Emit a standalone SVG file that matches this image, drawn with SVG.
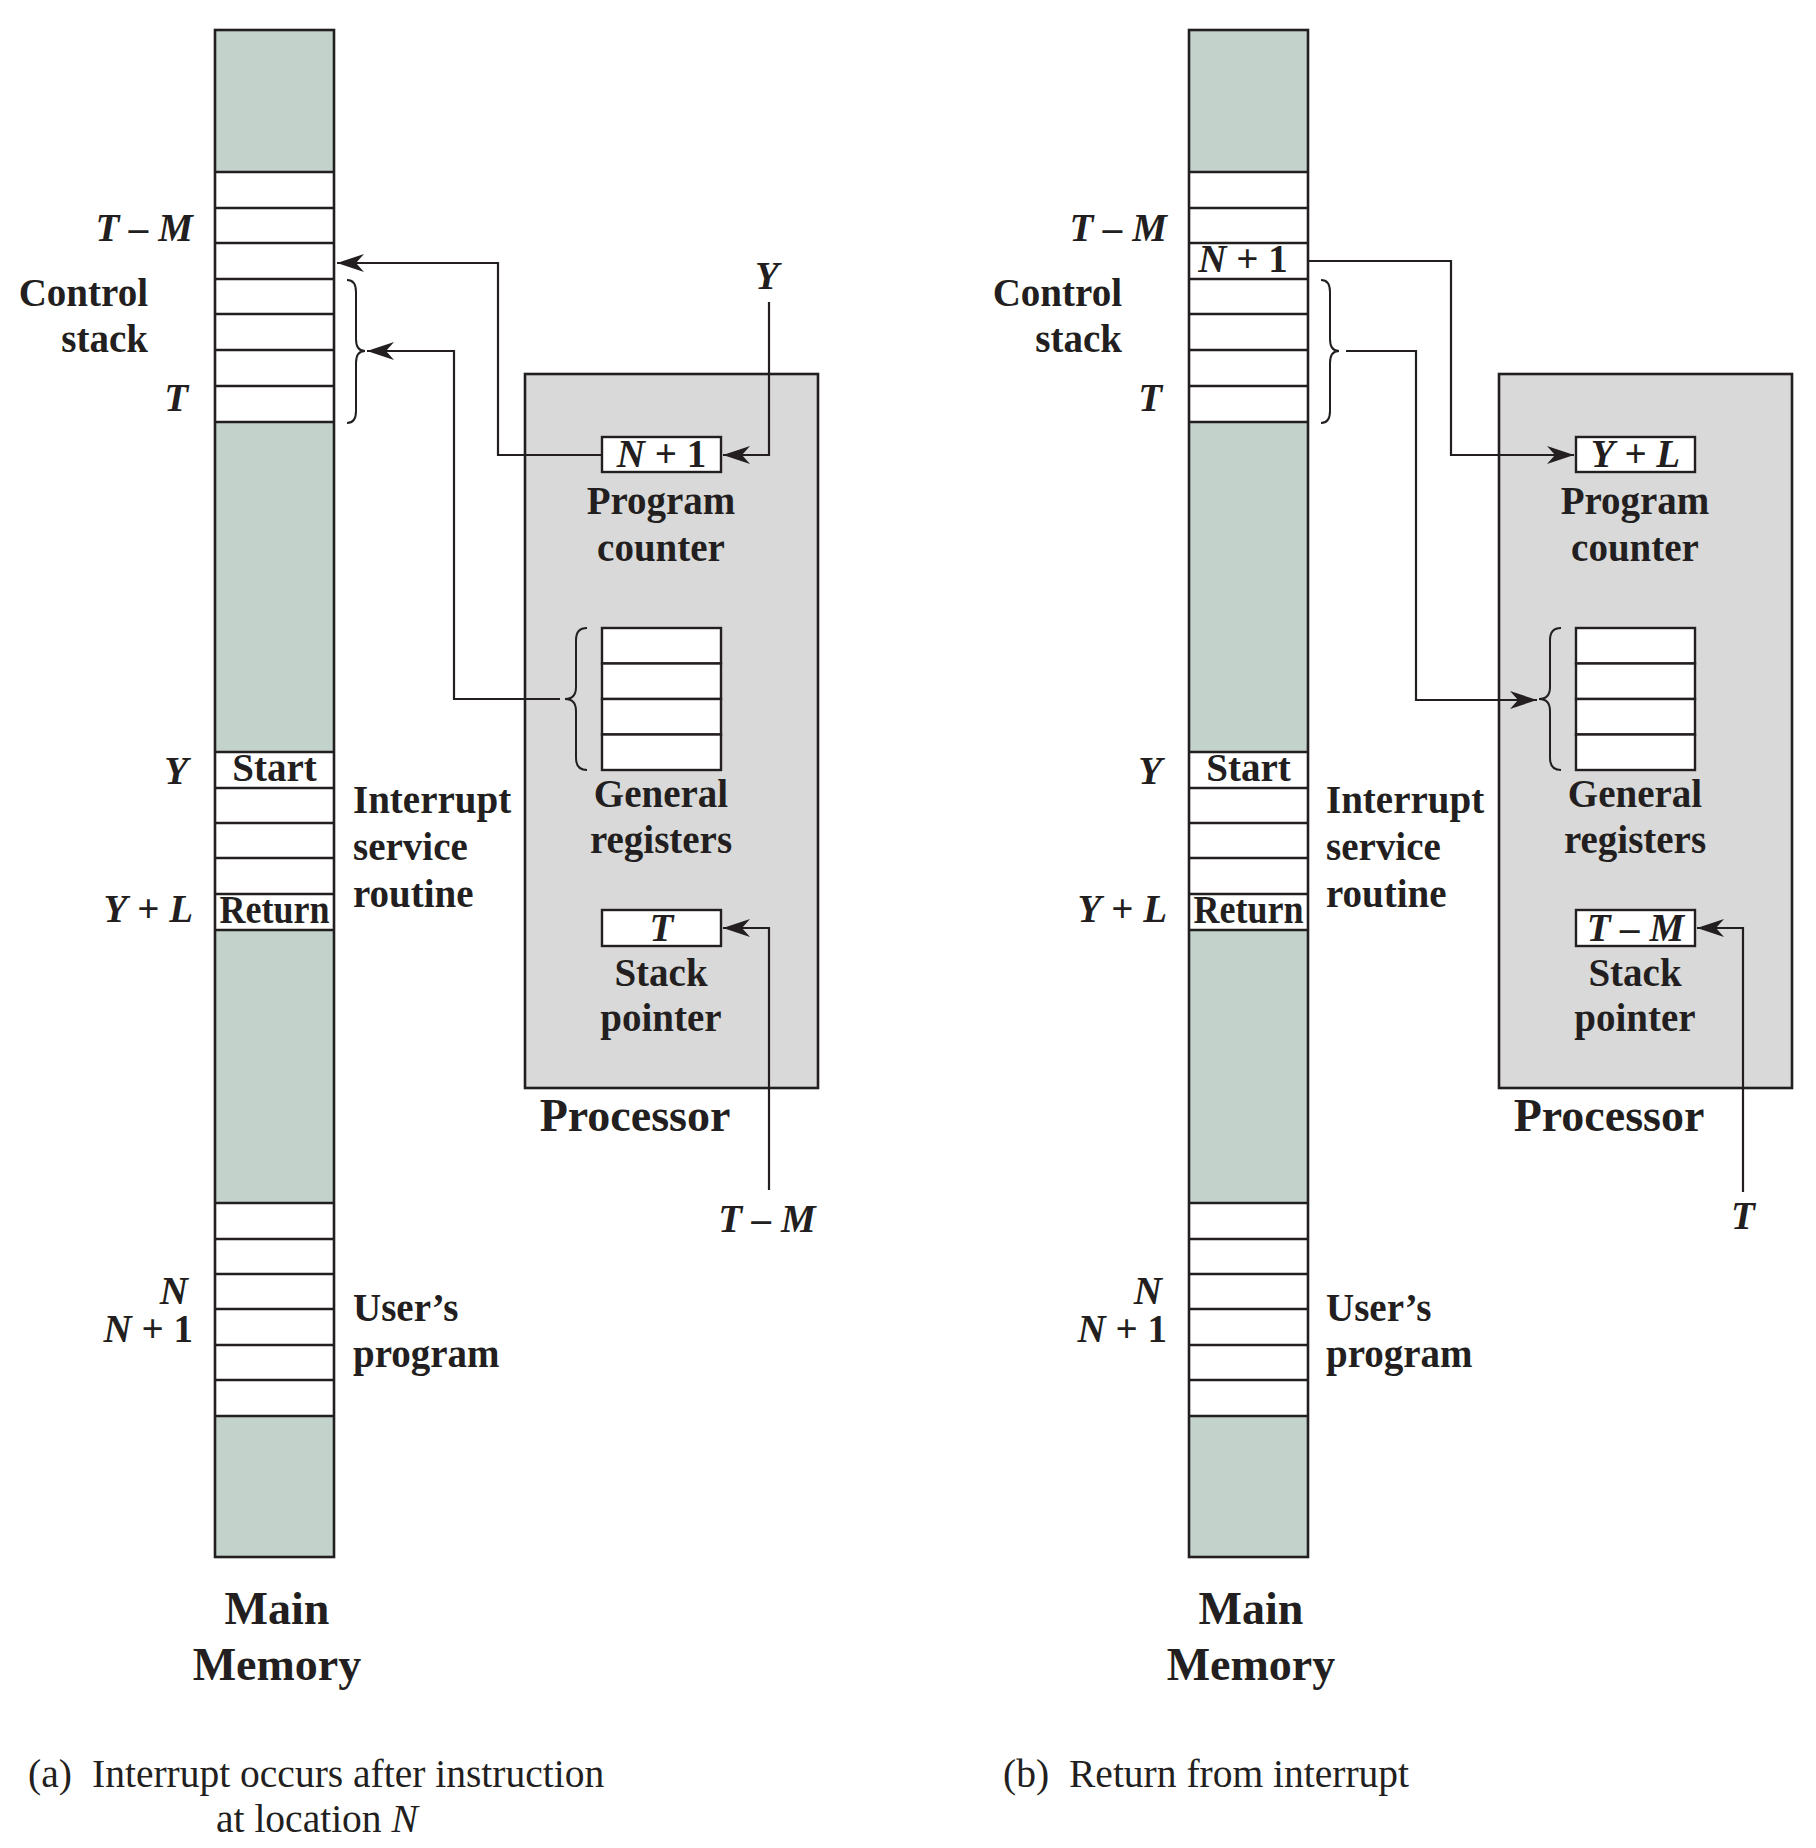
<svg xmlns="http://www.w3.org/2000/svg" width="1816" height="1848" viewBox="0 0 1816 1848">
<defs>
<style>
.mem{fill:#c3d3cc}
.cell{fill:#ffffff}
.ol{fill:none;stroke:#231f20;stroke-width:2.6}
.div{stroke:#231f20;stroke-width:2.4}
.proc{fill:#d9d9d9;stroke:#231f20;stroke-width:2.6}
.reg{fill:#ffffff;stroke:#231f20;stroke-width:2.4}
.con{fill:none;stroke:#231f20;stroke-width:2.2}
.brace{fill:none;stroke:#231f20;stroke-width:2}
.t{font-family:"Liberation Serif","Times New Roman",serif;font-weight:bold;font-size:39px;fill:#231f20}
.i{font-style:italic}
.big{font-size:46px}
.mid{text-anchor:middle}
.end{text-anchor:end}
.cap{font-family:"Liberation Serif","Times New Roman",serif;font-size:39.5px;fill:#231f20}
</style>
<marker id="ah" markerUnits="userSpaceOnUse" markerWidth="30" markerHeight="20" viewBox="-28 -10 30 20" refX="0" refY="0" orient="auto">
<path d="M0,0 L-27,-9 L-19,0 L-27,9 Z" fill="#231f20"/>
</marker>
</defs>

<!-- ===================== PANEL A ===================== -->
<g id="memory-a">
<rect class="mem" x="215" y="30" width="119" height="142"/>
<rect class="cell" x="215" y="172" width="119" height="250"/>
<rect class="mem" x="215" y="422" width="119" height="330"/>
<rect class="cell" x="215" y="752" width="119" height="178"/>
<rect class="mem" x="215" y="930" width="119" height="273"/>
<rect class="cell" x="215" y="1203" width="119" height="213"/>
<rect class="mem" x="215" y="1416" width="119" height="141"/>
<g class="div">
<line x1="215" y1="172" x2="334" y2="172"/><line x1="215" y1="208" x2="334" y2="208"/><line x1="215" y1="243" x2="334" y2="243"/><line x1="215" y1="279" x2="334" y2="279"/><line x1="215" y1="314" x2="334" y2="314"/><line x1="215" y1="350" x2="334" y2="350"/><line x1="215" y1="386" x2="334" y2="386"/><line x1="215" y1="422" x2="334" y2="422"/>
<line x1="215" y1="752" x2="334" y2="752"/><line x1="215" y1="788" x2="334" y2="788"/><line x1="215" y1="823" x2="334" y2="823"/><line x1="215" y1="858" x2="334" y2="858"/><line x1="215" y1="894" x2="334" y2="894"/><line x1="215" y1="930" x2="334" y2="930"/>
<line x1="215" y1="1203" x2="334" y2="1203"/><line x1="215" y1="1239" x2="334" y2="1239"/><line x1="215" y1="1274" x2="334" y2="1274"/><line x1="215" y1="1309" x2="334" y2="1309"/><line x1="215" y1="1345" x2="334" y2="1345"/><line x1="215" y1="1380" x2="334" y2="1380"/><line x1="215" y1="1416" x2="334" y2="1416"/>
</g>
<rect class="ol" x="215" y="30" width="119" height="1527"/>
<text class="t mid" x="274.5" y="781">Start</text>
<text class="t mid" x="274.5" y="923" textLength="110" lengthAdjust="spacingAndGlyphs">Return</text>
<path class="brace" d="M347,280 Q356,280 356,292 V339 Q356,351 365,351 Q356,351 356,363 V411 Q356,423 347,423"/>
<text class="t i end" x="193" y="241">T – M</text>
<text class="t end" x="148" y="306">Control</text>
<text class="t end" x="148" y="352">stack</text>
<text class="t i end" x="188" y="411">T</text>
<text class="t i end" x="188" y="784">Y</text>
<text class="t end" x="193" y="922"><tspan class="i">Y</tspan> + <tspan class="i">L</tspan></text>
<text class="t end"><tspan class="i" x="188" y="1304">N</tspan><tspan x="193" y="1342"><tspan class="i">N</tspan> + 1</tspan></text>
<text class="t" x="353" y="813">Interrupt</text>
<text class="t" x="353" y="860">service</text>
<text class="t" x="353" y="907">routine</text>
<text class="t" x="353" y="1321">User’s</text>
<text class="t" x="353" y="1367">program</text>
<text class="t big mid" x="277" y="1624">Main</text>
<text class="t big mid" x="277" y="1680">Memory</text>
</g>

<g id="processor-a">
<rect class="proc" x="525" y="374" width="293" height="714"/>
<text class="t big mid" x="635" y="1131">Processor</text>
</g>
<g id="pc-a">
<rect class="reg" x="602" y="437" width="119" height="35"/>
<text class="t mid" x="661.5" y="467"><tspan class="i">N</tspan> + 1</text>
<text class="t mid" x="661" y="514">Program</text>
<text class="t mid" x="661" y="561">counter</text>
</g>
<g id="gr-a">
<rect class="reg" x="602" y="628" width="119" height="35.5"/>
<rect class="reg" x="602" y="663.5" width="119" height="35.5"/>
<rect class="reg" x="602" y="699" width="119" height="35.5"/>
<rect class="reg" x="602" y="734.5" width="119" height="35.5"/>
<path class="brace" d="M587,628 Q576,628 576,640 V687 Q576,699 565,699 Q576,699 576,711 V758 Q576,770 587,770"/>
<text class="t mid" x="661" y="807">General</text>
<text class="t mid" x="661" y="853">registers</text>
</g>
<g id="sp-a">
<rect class="reg" x="602" y="910" width="119" height="36"/>
<text class="t i mid" x="661.5" y="941">T</text>
<text class="t mid" x="661" y="986">Stack</text>
<text class="t mid" x="661" y="1031">pointer</text>
</g>
<g id="labels-a">
<text class="t i mid" x="767" y="289">Y</text>
<text class="t i mid" x="767" y="1232">T – M</text>
</g>

<!-- ===================== PANEL B ===================== -->
<g id="memory-b">
<rect class="mem" x="1189" y="30" width="119" height="142"/>
<rect class="cell" x="1189" y="172" width="119" height="250"/>
<rect class="mem" x="1189" y="422" width="119" height="330"/>
<rect class="cell" x="1189" y="752" width="119" height="178"/>
<rect class="mem" x="1189" y="930" width="119" height="273"/>
<rect class="cell" x="1189" y="1203" width="119" height="213"/>
<rect class="mem" x="1189" y="1416" width="119" height="141"/>
<g class="div">
<line x1="1189" y1="172" x2="1308" y2="172"/><line x1="1189" y1="208" x2="1308" y2="208"/><line x1="1189" y1="243" x2="1308" y2="243"/><line x1="1189" y1="279" x2="1308" y2="279"/><line x1="1189" y1="314" x2="1308" y2="314"/><line x1="1189" y1="350" x2="1308" y2="350"/><line x1="1189" y1="386" x2="1308" y2="386"/><line x1="1189" y1="422" x2="1308" y2="422"/>
<line x1="1189" y1="752" x2="1308" y2="752"/><line x1="1189" y1="788" x2="1308" y2="788"/><line x1="1189" y1="823" x2="1308" y2="823"/><line x1="1189" y1="858" x2="1308" y2="858"/><line x1="1189" y1="894" x2="1308" y2="894"/><line x1="1189" y1="930" x2="1308" y2="930"/>
<line x1="1189" y1="1203" x2="1308" y2="1203"/><line x1="1189" y1="1239" x2="1308" y2="1239"/><line x1="1189" y1="1274" x2="1308" y2="1274"/><line x1="1189" y1="1309" x2="1308" y2="1309"/><line x1="1189" y1="1345" x2="1308" y2="1345"/><line x1="1189" y1="1380" x2="1308" y2="1380"/><line x1="1189" y1="1416" x2="1308" y2="1416"/>
</g>
<rect class="ol" x="1189" y="30" width="119" height="1527"/>
<text class="t mid" x="1243" y="272"><tspan class="i">N</tspan> + 1</text>
<text class="t mid" x="1248.5" y="781">Start</text>
<text class="t mid" x="1248.5" y="923" textLength="110" lengthAdjust="spacingAndGlyphs">Return</text>
<path class="brace" d="M1321,280 Q1330,280 1330,292 V339 Q1330,351 1339,351 Q1330,351 1330,363 V411 Q1330,423 1321,423"/>
<text class="t i end" x="1167" y="241">T – M</text>
<text class="t end" x="1122" y="306">Control</text>
<text class="t end" x="1122" y="352">stack</text>
<text class="t i end" x="1162" y="411">T</text>
<text class="t i end" x="1162" y="784">Y</text>
<text class="t end" x="1167" y="922"><tspan class="i">Y</tspan> + <tspan class="i">L</tspan></text>
<text class="t end"><tspan class="i" x="1162" y="1304">N</tspan><tspan x="1167" y="1342"><tspan class="i">N</tspan> + 1</tspan></text>
<text class="t" x="1326" y="813">Interrupt</text>
<text class="t" x="1326" y="860">service</text>
<text class="t" x="1326" y="907">routine</text>
<text class="t" x="1326" y="1321">User’s</text>
<text class="t" x="1326" y="1367">program</text>
<text class="t big mid" x="1251" y="1624">Main</text>
<text class="t big mid" x="1251" y="1680">Memory</text>
</g>

<g id="processor-b">
<rect class="proc" x="1499" y="374" width="293" height="714"/>
<text class="t big mid" x="1609" y="1131">Processor</text>
</g>
<g id="pc-b">
<rect class="reg" x="1576" y="437" width="119" height="35"/>
<text class="t mid" x="1635.5" y="467"><tspan class="i">Y</tspan> + <tspan class="i">L</tspan></text>
<text class="t mid" x="1635" y="514">Program</text>
<text class="t mid" x="1635" y="561">counter</text>
</g>
<g id="gr-b">
<rect class="reg" x="1576" y="628" width="119" height="35.5"/>
<rect class="reg" x="1576" y="663.5" width="119" height="35.5"/>
<rect class="reg" x="1576" y="699" width="119" height="35.5"/>
<rect class="reg" x="1576" y="734.5" width="119" height="35.5"/>
<path class="brace" d="M1561,628 Q1550,628 1550,640 V687 Q1550,699 1539,699 Q1550,699 1550,711 V758 Q1550,770 1561,770"/>
<text class="t mid" x="1635" y="807">General</text>
<text class="t mid" x="1635" y="853">registers</text>
</g>
<g id="sp-b">
<rect class="reg" x="1576" y="910" width="119" height="36"/>
<text class="t i mid" x="1635.5" y="941">T – M</text>
<text class="t mid" x="1635" y="986">Stack</text>
<text class="t mid" x="1635" y="1031">pointer</text>
</g>
<g id="labels-b">
<text class="t i mid" x="1743" y="1229">T</text>
</g>

<!-- ===================== CONNECTORS ===================== -->
<g id="connectors">
<path class="con" d="M602,455 H498 V263 H337" marker-end="url(#ah)"/>
<path class="con" d="M560,699 H454 V351 H367" marker-end="url(#ah)"/>
<path class="con" d="M769,302 V455 H723" marker-end="url(#ah)"/>
<path class="con" d="M769,1190 V928 H723" marker-end="url(#ah)"/>
<path class="con" d="M1309,261 H1451 V455 H1574" marker-end="url(#ah)"/>
<path class="con" d="M1346,351 H1416 V700 H1537" marker-end="url(#ah)"/>
<path class="con" d="M1743,1192 V928 H1697" marker-end="url(#ah)"/>
</g>

<!-- ===================== CAPTIONS ===================== -->
<g id="captions">
<text class="cap" x="28" y="1787">(a)</text>
<text class="cap" x="92" y="1787">Interrupt occurs after instruction</text>
<text class="cap" x="216" y="1832">at location <tspan font-style="italic">N</tspan></text>
<text class="cap" x="1003" y="1787">(b)</text>
<text class="cap" x="1069" y="1787">Return from interrupt</text>
</g>
</svg>
